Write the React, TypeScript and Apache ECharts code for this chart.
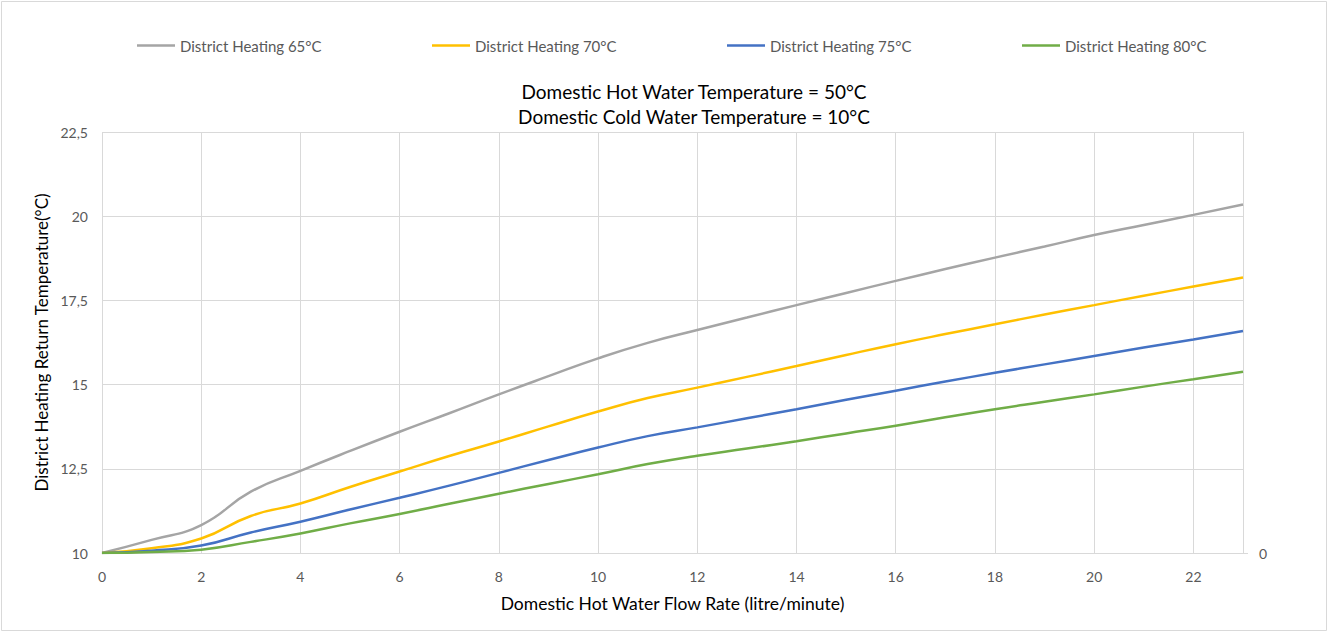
import React, { useEffect, useRef } from "react";
import * as echarts from "echarts";

const flowRates = [0, 1, 2, 3, 4, 5, 6, 7, 8, 9, 10, 11, 12, 13, 14, 15, 16, 17, 18, 19, 20, 21, 22, 23];
const dh65 = [10, 10.39, 10.83, 11.82, 12.44, 13.03, 13.6, 14.15, 14.71, 15.25, 15.78, 16.24, 16.62, 16.99, 17.36, 17.72, 18.08, 18.43, 18.77, 19.1, 19.44, 19.74, 20.04, 20.35];
const dh70 = [10, 10.14, 10.43, 11.1, 11.47, 11.96, 12.42, 12.88, 13.31, 13.76, 14.2, 14.6, 14.91, 15.23, 15.55, 15.88, 16.2, 16.5, 16.79, 17.08, 17.36, 17.64, 17.91, 18.18];
const dh75 = [10, 10.07, 10.22, 10.61, 10.93, 11.29, 11.64, 12.0, 12.38, 12.76, 13.13, 13.47, 13.73, 14.0, 14.27, 14.55, 14.82, 15.09, 15.35, 15.6, 15.85, 16.1, 16.34, 16.59];
const dh80 = [10, 10.03, 10.1, 10.33, 10.58, 10.88, 11.16, 11.46, 11.76, 12.05, 12.34, 12.64, 12.89, 13.1, 13.32, 13.55, 13.78, 14.03, 14.27, 14.49, 14.71, 14.94, 15.16, 15.38];

const seriesNames = ["District Heating 65°C", "District Heating 70°C", "District Heating 75°C", "District Heating 80°C"];
const seriesColors = ["#A5A5A5", "#FFC000", "#4472C4", "#70AD47"];
const seriesValues = [dh65, dh70, dh75, dh80];

const titleLines = ["Domestic Hot Water Temperature = 50°C", "Domestic Cold Water Temperature = 10°C"];
const xAxisName = "Domestic Hot Water Flow Rate (litre/minute)";
const yAxisName = "District Heating Return Temperature(°C)";

const FONT = "Lato, 'Liberation Sans', sans-serif";

export default function App() {
  const ref = useRef<HTMLDivElement>(null);
  useEffect(() => {
    document.body.style.margin = "0";
    if (!ref.current) return;
    const chart = echarts.init(ref.current, null, { renderer: "svg" });
    const legendLefts = [137, 432, 727, 1022];
    chart.setOption({
      animation: false,
      backgroundColor: "#ffffff",
      textStyle: { fontFamily: FONT },
      legend: seriesNames.map((n, i) => ({
        data: [{ name: n, icon: "rect" }],
        left: legendLefts[i],
        top: 38,
        padding: 0,
        itemWidth: 38,
        itemHeight: 2.5,
        textStyle: { color: "#595959", fontSize: 15, fontFamily: FONT },
      })),
      graphic: [
        {
          type: "rect",
          shape: { x: 1.5, y: 1.5, width: 1325, height: 629 },
          style: { fill: "none", stroke: "#d9d9d9", lineWidth: 1 },
          silent: true,
        },
        {
          type: "text",
          x: 694,
          y: 91,
          style: { text: titleLines[0], fill: "#000000", fontSize: 19, fontFamily: FONT, textAlign: "center", textVerticalAlign: "middle" },
        },
        {
          type: "text",
          x: 694,
          y: 116,
          style: { text: titleLines[1], fill: "#000000", fontSize: 19, fontFamily: FONT, textAlign: "center", textVerticalAlign: "middle" },
        },
      ],
      grid: { left: 102, right: 92, top: 132, bottom: 80, containLabel: false },
      xAxis: {
        type: "value",
        min: 0,
        max: 23,
        interval: 2,
        name: xAxisName,
        nameLocation: "middle",
        nameGap: 41,
        nameTextStyle: { color: "#000000", fontSize: 17.5, fontFamily: FONT },
        axisLine: { show: true, lineStyle: { color: "#d9d9d9", width: 1 } },
        axisTick: { show: false },
        axisLabel: { color: "#595959", fontSize: 14, margin: 16, fontFamily: FONT, showMaxLabel: false },
        splitLine: { show: true, lineStyle: { color: "#d9d9d9", width: 1 } },
      },
      yAxis: [
        {
          type: "value",
          min: 10,
          max: 22.5,
          interval: 2.5,
          name: yAxisName,
          nameLocation: "middle",
          nameGap: 51,
          nameTextStyle: { color: "#000000", fontSize: 17, fontFamily: FONT },
          axisLine: { show: false },
          axisTick: { show: false },
          axisLabel: {
            color: "#595959",
            fontSize: 14,
            margin: 14,
            fontFamily: FONT,
            formatter: (v: number) => String(v).replace(".", ","),
          },
          splitLine: { show: true, lineStyle: { color: "#d9d9d9", width: 1 } },
        },
        {
          type: "value",
          position: "right",
          min: 0,
          max: 1,
          interval: 1,
          axisLine: { show: true, lineStyle: { color: "#d9d9d9", width: 1 } },
          axisTick: { show: true, length: 5, customValues: [0], lineStyle: { color: "#d9d9d9" } },
          axisLabel: {
            color: "#595959",
            fontSize: 14,
            margin: 16,
            fontFamily: FONT,
            formatter: (v: number) => (v === 0 ? "0" : ""),
          },
          splitLine: { show: false },
        },
      ],
      series: seriesNames.map((n, i) => ({
        name: n,
        type: "line",
        yAxisIndex: 0,
        smooth: 0.5,
        symbol: "none",
        showSymbol: false,
        color: seriesColors[i],
        lineStyle: { color: seriesColors[i], width: 2.5 },
        data: flowRates.map((x, j) => [x, seriesValues[i][j]]),
      })),
    });
    return () => chart.dispose();
  }, []);
  return <div ref={ref} style={{ width: 1335, height: 633 }} />;
}
